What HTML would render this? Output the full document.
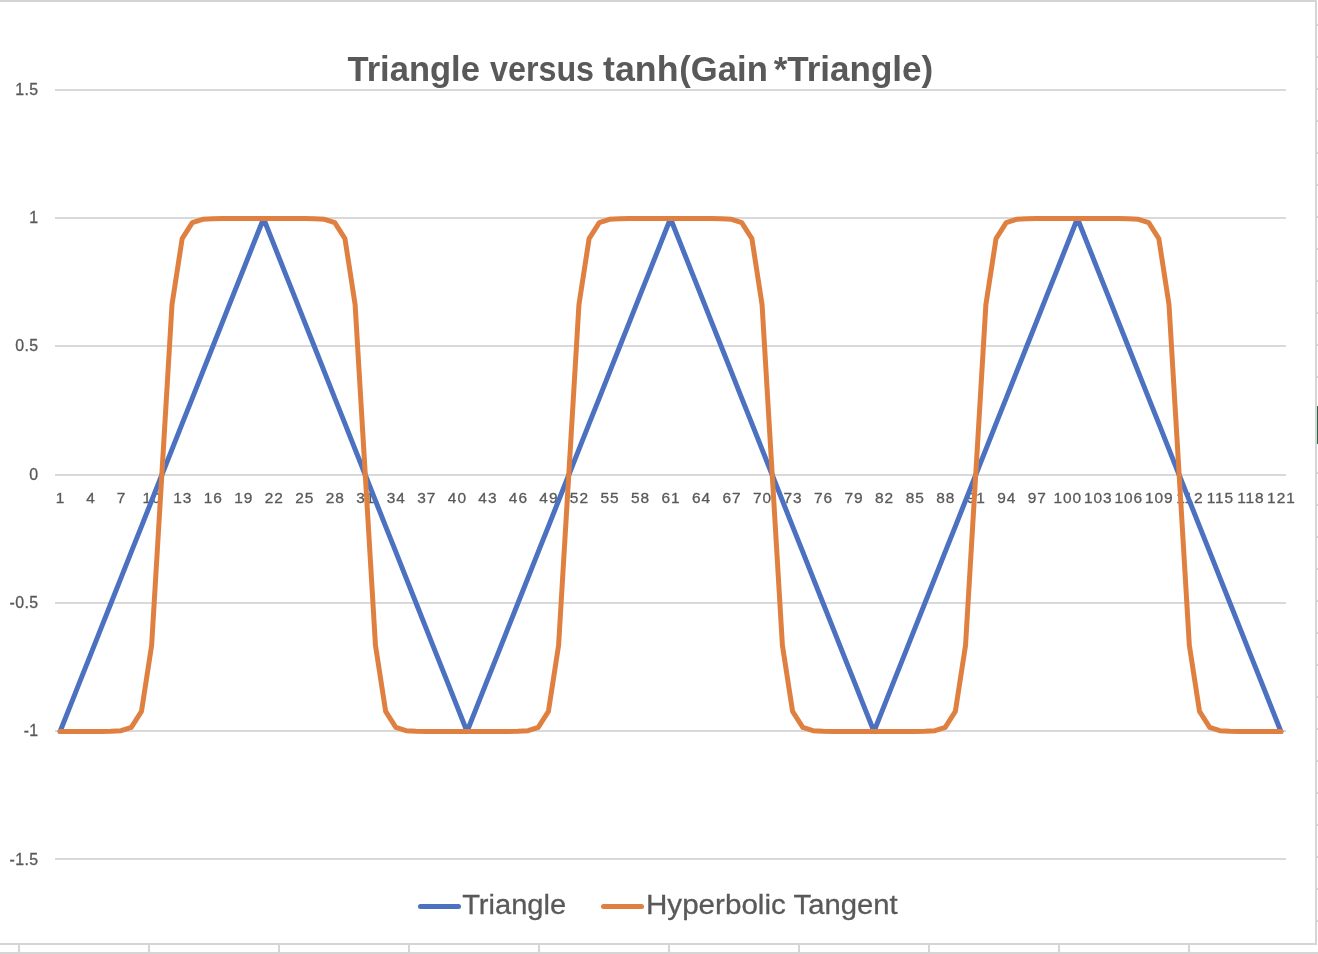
<!DOCTYPE html>
<html lang="en"><head><meta charset="utf-8"><title>Triangle versus tanh(Gain*Triangle)</title>
<style>
html,body{margin:0;padding:0;background:#fff;}
body{width:1318px;height:954px;overflow:hidden;position:relative;font-family:"Liberation Sans",sans-serif;}
svg{position:absolute;left:0;top:0;display:block}
text{font-family:"Liberation Sans",sans-serif;fill:#595959;}
.ax{font-size:15.45px;letter-spacing:0.95px;stroke:#595959;stroke-width:0.3px;}
.title{font-size:35px;font-weight:bold;}
.leg{font-size:28.2px;stroke:#595959;stroke-width:0.3px;}
</style></head><body>
<svg width="1318" height="954" viewBox="0 0 1318 954">
<rect x="0" y="0" width="1318" height="954" fill="#ffffff"/>
<!-- sheet cell gridlines peeking out -->
<g fill="#d6d6d6">
<rect x="0" y="952" width="1318" height="2"/>
<rect x="18" y="945" width="2" height="7"/>
<rect x="148" y="945" width="2" height="7"/>
<rect x="278" y="945" width="2" height="7"/>
<rect x="408" y="945" width="2" height="7"/>
<rect x="538" y="945" width="2" height="7"/>
<rect x="668" y="945" width="2" height="7"/>
<rect x="798" y="945" width="2" height="7"/>
<rect x="928" y="945" width="2" height="7"/>
<rect x="1058" y="945" width="2" height="7"/>
<rect x="1188" y="945" width="2" height="7"/>
<rect x="1317" y="24" width="1" height="2"/>
<rect x="1317" y="56" width="1" height="2"/>
<rect x="1317" y="88" width="1" height="2"/>
<rect x="1317" y="120" width="1" height="2"/>
<rect x="1317" y="152" width="1" height="2"/>
<rect x="1317" y="184" width="1" height="2"/>
<rect x="1317" y="216" width="1" height="2"/>
<rect x="1317" y="248" width="1" height="2"/>
<rect x="1317" y="280" width="1" height="2"/>
<rect x="1317" y="312" width="1" height="2"/>
<rect x="1317" y="344" width="1" height="2"/>
<rect x="1317" y="376" width="1" height="2"/>
<rect x="1317" y="408" width="1" height="2"/>
<rect x="1317" y="440" width="1" height="2"/>
<rect x="1317" y="472" width="1" height="2"/>
<rect x="1317" y="504" width="1" height="2"/>
<rect x="1317" y="536" width="1" height="2"/>
<rect x="1317" y="568" width="1" height="2"/>
<rect x="1317" y="600" width="1" height="2"/>
<rect x="1317" y="632" width="1" height="2"/>
<rect x="1317" y="664" width="1" height="2"/>
<rect x="1317" y="696" width="1" height="2"/>
<rect x="1317" y="728" width="1" height="2"/>
<rect x="1317" y="760" width="1" height="2"/>
<rect x="1317" y="792" width="1" height="2"/>
<rect x="1317" y="824" width="1" height="2"/>
<rect x="1317" y="856" width="1" height="2"/>
<rect x="1317" y="888" width="1" height="2"/>
<rect x="1317" y="920" width="1" height="2"/>
<rect x="1317" y="952" width="1" height="2"/>
</g>
<!-- chart frame -->
<g fill="#d5d5d5">
<rect x="0" y="0" width="1317" height="2"/>
<rect x="1315" y="0" width="2" height="945"/>
<rect x="0" y="943" width="1317" height="2"/>
</g>
<rect x="1317" y="406" width="1" height="38" fill="#2a6b45"/>
<!-- gridlines -->
<g fill="#d9d9d9">
<rect x="55.0" y="89" width="1231.0" height="2"/>
<rect x="55.0" y="217" width="1231.0" height="2"/>
<rect x="55.0" y="345" width="1231.0" height="2"/>
<rect x="55.0" y="602" width="1231.0" height="2"/>
<rect x="55.0" y="730" width="1231.0" height="2"/>
<rect x="55.0" y="858" width="1231.0" height="2"/>
<rect x="55.0" y="474" width="1231.0" height="2"/>
</g>
<g class="ax" text-anchor="end" style="font-size:15.9px;letter-spacing:0.4px">
<text x="38.6" y="94.6">1.5</text>
<text x="38.6" y="222.6">1</text>
<text x="38.6" y="350.6">0.5</text>
<text x="38.6" y="479.6">0</text>
<text x="38.6" y="607.6">-0.5</text>
<text x="38.6" y="735.6">-1</text>
<text x="38.6" y="864.6">-1.5</text>
</g>
<g class="ax" text-anchor="middle">
<text x="60.6" y="503.0">1</text>
<text x="91.1" y="503.0">4</text>
<text x="121.6" y="503.0">7</text>
<text x="152.1" y="503.0">10</text>
<text x="182.7" y="503.0">13</text>
<text x="213.2" y="503.0">16</text>
<text x="243.7" y="503.0">19</text>
<text x="274.2" y="503.0">22</text>
<text x="304.8" y="503.0">25</text>
<text x="335.3" y="503.0">28</text>
<text x="365.8" y="503.0">31</text>
<text x="396.3" y="503.0">34</text>
<text x="426.8" y="503.0">37</text>
<text x="457.4" y="503.0">40</text>
<text x="487.9" y="503.0">43</text>
<text x="518.4" y="503.0">46</text>
<text x="548.9" y="503.0">49</text>
<text x="579.4" y="503.0">52</text>
<text x="610.0" y="503.0">55</text>
<text x="640.5" y="503.0">58</text>
<text x="671.0" y="503.0">61</text>
<text x="701.5" y="503.0">64</text>
<text x="732.0" y="503.0">67</text>
<text x="762.6" y="503.0">70</text>
<text x="793.1" y="503.0">73</text>
<text x="823.6" y="503.0">76</text>
<text x="854.1" y="503.0">79</text>
<text x="884.6" y="503.0">82</text>
<text x="915.2" y="503.0">85</text>
<text x="945.7" y="503.0">88</text>
<text x="976.2" y="503.0">91</text>
<text x="1006.7" y="503.0">94</text>
<text x="1037.2" y="503.0">97</text>
<text x="1067.8" y="503.0">100</text>
<text x="1098.3" y="503.0">103</text>
<text x="1128.8" y="503.0">106</text>
<text x="1159.3" y="503.0">109</text>
<text x="1189.9" y="503.0">112</text>
<text x="1220.4" y="503.0">115</text>
<text x="1250.9" y="503.0">118</text>
<text x="1281.4" y="503.0">121</text>
</g>
<polyline points="60.09,731.50 70.26,705.85 80.43,680.20 90.61,654.55 100.78,628.90 110.95,603.25 121.13,577.60 131.30,551.95 141.48,526.30 151.65,500.65 161.82,475.00 172.00,449.35 182.17,423.70 192.34,398.05 202.52,372.40 212.69,346.75 222.86,321.10 233.04,295.45 243.21,269.80 253.38,244.15 263.56,218.50 273.73,244.15 283.90,269.80 294.08,295.45 304.25,321.10 314.43,346.75 324.60,372.40 334.77,398.05 344.95,423.70 355.12,449.35 365.29,475.00 375.47,500.65 385.64,526.30 395.81,551.95 405.99,577.60 416.16,603.25 426.33,628.90 436.51,654.55 446.68,680.20 456.86,705.85 467.03,731.50 477.20,705.85 487.38,680.20 497.55,654.55 507.72,628.90 517.90,603.25 528.07,577.60 538.24,551.95 548.42,526.30 558.59,500.65 568.76,475.00 578.94,449.35 589.11,423.70 599.29,398.05 609.46,372.40 619.63,346.75 629.81,321.10 639.98,295.45 650.15,269.80 660.33,244.15 670.50,218.50 680.67,244.15 690.85,269.80 701.02,295.45 711.19,321.10 721.37,346.75 731.54,372.40 741.71,398.05 751.89,423.70 762.06,449.35 772.24,475.00 782.41,500.65 792.58,526.30 802.76,551.95 812.93,577.60 823.10,603.25 833.28,628.90 843.45,654.55 853.62,680.20 863.80,705.85 873.97,731.50 884.14,705.85 894.32,680.20 904.49,654.55 914.67,628.90 924.84,603.25 935.01,577.60 945.19,551.95 955.36,526.30 965.53,500.65 975.71,475.00 985.88,449.35 996.05,423.70 1006.23,398.05 1016.40,372.40 1026.57,346.75 1036.75,321.10 1046.92,295.45 1057.10,269.80 1067.27,244.15 1077.44,218.50 1087.62,244.15 1097.79,269.80 1107.96,295.45 1118.14,321.10 1128.31,346.75 1138.48,372.40 1148.66,398.05 1158.83,423.70 1169.00,449.35 1179.18,475.00 1189.35,500.65 1199.52,526.30 1209.70,551.95 1219.87,577.60 1230.05,603.25 1240.22,628.90 1250.39,654.55 1260.57,680.20 1270.74,705.85 1280.91,731.50" fill="none" stroke="#4b71c0" stroke-width="5.0" stroke-linejoin="bevel" stroke-linecap="round"/>
<polyline points="60.09,731.50 70.26,731.50 80.43,731.50 90.61,731.49 100.78,731.47 110.95,731.33 121.13,730.65 131.30,727.31 141.48,711.41 151.65,645.33 161.82,475.00 172.00,304.67 182.17,238.59 192.34,222.69 202.52,219.35 212.69,218.67 222.86,218.53 233.04,218.51 243.21,218.50 253.38,218.50 263.56,218.50 273.73,218.50 283.90,218.50 294.08,218.51 304.25,218.53 314.43,218.67 324.60,219.35 334.77,222.69 344.95,238.59 355.12,304.67 365.29,475.00 375.47,645.33 385.64,711.41 395.81,727.31 405.99,730.65 416.16,731.33 426.33,731.47 436.51,731.49 446.68,731.50 456.86,731.50 467.03,731.50 477.20,731.50 487.38,731.50 497.55,731.49 507.72,731.47 517.90,731.33 528.07,730.65 538.24,727.31 548.42,711.41 558.59,645.33 568.76,475.00 578.94,304.67 589.11,238.59 599.29,222.69 609.46,219.35 619.63,218.67 629.81,218.53 639.98,218.51 650.15,218.50 660.33,218.50 670.50,218.50 680.67,218.50 690.85,218.50 701.02,218.51 711.19,218.53 721.37,218.67 731.54,219.35 741.71,222.69 751.89,238.59 762.06,304.67 772.24,475.00 782.41,645.33 792.58,711.41 802.76,727.31 812.93,730.65 823.10,731.33 833.28,731.47 843.45,731.49 853.62,731.50 863.80,731.50 873.97,731.50 884.14,731.50 894.32,731.50 904.49,731.49 914.67,731.47 924.84,731.33 935.01,730.65 945.19,727.31 955.36,711.41 965.53,645.33 975.71,475.00 985.88,304.67 996.05,238.59 1006.23,222.69 1016.40,219.35 1026.57,218.67 1036.75,218.53 1046.92,218.51 1057.10,218.50 1067.27,218.50 1077.44,218.50 1087.62,218.50 1097.79,218.50 1107.96,218.51 1118.14,218.53 1128.31,218.67 1138.48,219.35 1148.66,222.69 1158.83,238.59 1169.00,304.67 1179.18,475.00 1189.35,645.33 1199.52,711.41 1209.70,727.31 1219.87,730.65 1230.05,731.33 1240.22,731.47 1250.39,731.49 1260.57,731.50 1270.74,731.50 1280.91,731.50" fill="none" stroke="#df8041" stroke-width="5.0" stroke-linejoin="round" stroke-linecap="round"/>
<text class="title" y="81" xml:space="preserve"><tspan x="347.5" textLength="142" lengthAdjust="spacingAndGlyphs">Triangle </tspan><tspan x="490" textLength="113" lengthAdjust="spacingAndGlyphs">versus </tspan><tspan x="603" textLength="75.5" lengthAdjust="spacingAndGlyphs">tanh</tspan><tspan x="679.3" textLength="88.5" lengthAdjust="spacingAndGlyphs">(Gain</tspan><tspan x="773.8" textLength="13.6" lengthAdjust="spacingAndGlyphs">*</tspan><tspan x="787.2" textLength="146" lengthAdjust="spacingAndGlyphs">Triangle)</tspan></text>
<line x1="420.5" y1="906.5" x2="458.5" y2="906.5" stroke="#4b71c0" stroke-width="5" stroke-linecap="round"/>
<line x1="603.5" y1="906.5" x2="641.5" y2="906.5" stroke="#df8041" stroke-width="5" stroke-linecap="round"/>
<text class="leg" y="914.2" xml:space="preserve"><tspan x="462.2" textLength="104" lengthAdjust="spacingAndGlyphs">Triangle</tspan></text>
<text class="leg" y="914.2" xml:space="preserve"><tspan x="646" textLength="148" lengthAdjust="spacingAndGlyphs">Hyperbolic </tspan><tspan x="793.6" textLength="104" lengthAdjust="spacingAndGlyphs">Tangent</tspan></text>
</svg>
</body></html>
